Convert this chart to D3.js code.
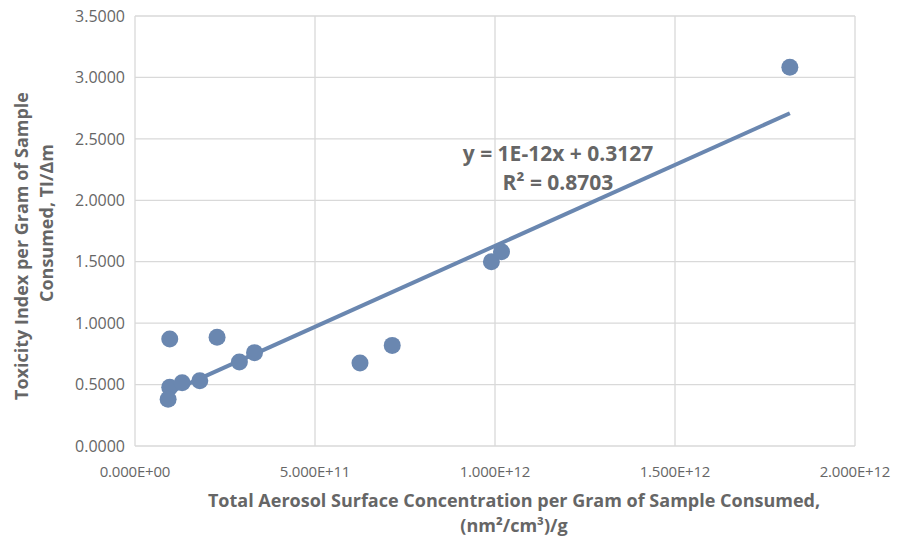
<!DOCTYPE html>
<html lang="en">
<head>
    <meta charset="UTF-8">
    <title>Toxicity Index vs Aerosol Surface Concentration</title>
    <style>
        body { margin: 0; background: #fff; }
        text { font-family: "Open Sans", sans-serif; fill: #666; }
    </style>
</head>
<body>
    <div id="chart"></div>

    <script src="https://d3js.org/d3.v7.min.js"></script>
    <script>
        // surface concentration per gram, (nm2/cm3)/g
        const surfaceConc = [9.65e10, 2.28e11, 9.65e10, 1.31e11, 1.80e11, 9.2e10, 2.90e11,
            3.32e11, 6.25e11, 7.145e11, 9.90e11, 1.018e12, 1.819e12];
        // toxicity index per gram, TI/dm
        const toxicity = [0.871, 0.885, 0.478, 0.515, 0.532, 0.380, 0.684,
            0.760, 0.676, 0.819, 1.500, 1.582, 3.082];

        const xTicks = [0, 5e11, 1e12, 1.5e12, 2e12];
        const yTicks = [0, 0.5, 1.0, 1.5, 2.0, 2.5, 3.0, 3.5];
        const eqnLines = ["y = 1E-12x + 0.3127", "R\u00B2 = 0.8703"];

        const width = 901, height = 545;
        const margin = { top: 16, right: 46, bottom: 99, left: 135 };

        const svg = d3.select("#chart").append("svg")
            .attr("width", width)
            .attr("height", height);

        const x = d3.scaleLinear().domain([0, 2e12]).range([margin.left, width - margin.right]);
        const y = d3.scaleLinear().domain([0, 3.5]).range([height - margin.bottom, margin.top]);

        // gridlines
        svg.append("g")
            .selectAll("line.h")
            .data(yTicks)
            .enter().append("line")
            .attr("x1", x(0)).attr("x2", x(2e12))
            .attr("y1", d => y(d)).attr("y2", d => y(d))
            .attr("stroke", "#d9d9d9").attr("stroke-width", 1.3);

        svg.append("g")
            .selectAll("line.v")
            .data(xTicks)
            .enter().append("line")
            .attr("y1", y(0)).attr("y2", y(3.5))
            .attr("x1", d => x(d)).attr("x2", d => x(d))
            .attr("stroke", "#d9d9d9").attr("stroke-width", 1.3);

        // tick labels
        svg.append("g")
            .selectAll("text")
            .data(yTicks)
            .enter().append("text")
            .attr("x", margin.left - 10)
            .attr("y", d => y(d))
            .attr("dy", "0.36em")
            .attr("text-anchor", "end")
            .style("font-size", "16px")
            .text(d => d.toFixed(4));

        svg.append("g")
            .selectAll("text")
            .data(xTicks)
            .enter().append("text")
            .attr("x", d => x(d))
            .attr("y", y(0) + 31)
            .attr("text-anchor", "middle")
            .style("font-size", "15px")
            .style("letter-spacing", "-0.2px")
            .text(d => d.toExponential(3).toUpperCase().replace(/E([+-])(\d)$/, "E$10$2"));

        // linear trend from the points
        const mx = d3.mean(surfaceConc), my = d3.mean(toxicity);
        const slope = d3.sum(surfaceConc, (v, i) => (v - mx) * (toxicity[i] - my)) /
            d3.sum(surfaceConc, v => (v - mx) * (v - mx));
        const icpt = my - slope * mx;
        const [xmin, xmax] = d3.extent(surfaceConc);

        svg.append("line")
            .attr("x1", x(xmin)).attr("y1", y(icpt + slope * xmin))
            .attr("x2", x(xmax)).attr("y2", y(icpt + slope * xmax))
            .attr("stroke", "#6a87b0")
            .attr("stroke-width", 4);

        // points
        svg.append("g")
            .selectAll("circle")
            .data(surfaceConc)
            .enter().append("circle")
            .attr("cx", d => x(d))
            .attr("cy", (d, i) => y(toxicity[i]))
            .attr("r", 8.5)
            .attr("fill", "#6a87b0");

        // equation label
        svg.append("g")
            .selectAll("text")
            .data(eqnLines)
            .enter().append("text")
            .attr("x", 558)
            .attr("y", (d, i) => 161 + i * 29)
            .attr("text-anchor", "middle")
            .style("font-size", "21px")
            .style("font-weight", "bold")
            .text(d => d);

        // axis titles
        const xTitle = svg.append("text")
            .attr("text-anchor", "middle")
            .style("font-size", "18px")
            .style("font-weight", "bold");
        xTitle.append("tspan").attr("x", 514).attr("y", 507)
            .text("Total Aerosol Surface Concentration per Gram of Sample Consumed,");
        xTitle.append("tspan").attr("x", 514).attr("y", 532)
            .text("(nm\u00B2/cm\u00B3)/g");

        const yTitle = svg.append("text")
            .attr("transform", "rotate(-90)")
            .attr("text-anchor", "middle")
            .style("font-size", "18px")
            .style("font-weight", "bold");
        yTitle.append("tspan").attr("x", -246).attr("y", 28)
            .text("Toxicity Index per Gram of Sample");
        yTitle.append("tspan").attr("x", -223).attr("y", 53)
            .text("Consumed, TI/\u0394m");
    </script>
</body>
</html>
